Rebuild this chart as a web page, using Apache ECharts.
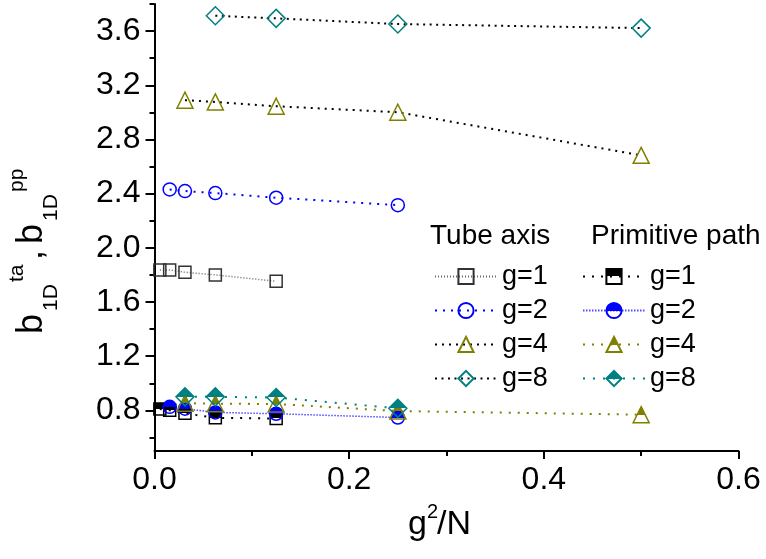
<!DOCTYPE html>
<html>
<head>
<meta charset="utf-8">
<script src="https://cdn.jsdelivr.net/npm/echarts@6/dist/echarts.min.js"></script>
<style>
  html, body { margin: 0; padding: 0; background: #fff; }
  #main { width: 766px; height: 559px; }
</style>
</head>
<body>
<div id="main"></div>
<script>
// x values (g^2/N) per group
const xG1 = [0.0055, 0.0156, 0.0313, 0.0625, 0.125];
const xG2 = [0.0156, 0.0313, 0.0625, 0.125, 0.25];
const xG4 = [0.0313, 0.0625, 0.125, 0.25, 0.5];
const xG8 = [0.0625, 0.125, 0.25, 0.5];
const xG8pp = [0.0313, 0.0625, 0.125, 0.25];

// tube axis b_1D^ta
const taG1 = [1.837, 1.837, 1.820, 1.800, 1.753];
const taG2 = [2.431, 2.419, 2.404, 2.370, 2.315];
const taG4 = [3.090, 3.077, 3.045, 3.001, 2.683];
const taG8 = [3.713, 3.694, 3.652, 3.622];

// primitive path b_1D^pp
const ppG1 = [0.810, 0.800, 0.778, 0.745, 0.740];
const ppG2 = [0.826, 0.812, 0.785, 0.775, 0.747];
const ppG4 = [0.853, 0.849, 0.847, 0.795, 0.768];
const ppG8 = [0.900, 0.900, 0.895, 0.815];

// axis ticks
const yMajor = [0.8, 1.2, 1.6, 2.0, 2.4, 2.8, 3.2, 3.6];
const yMinor = [0.6, 1.0, 1.4, 1.8, 2.2, 2.6, 3.0, 3.4, 3.8];

const FONT = 'Liberation Sans, Arial, sans-serif';
const zip = (xs, ys) => xs.map((x, i) => [x, ys[i]]);

function halfFill(c) {
  return new echarts.graphic.LinearGradient(0, 0, 0, 1, [
    { offset: 0, color: c },
    { offset: 0.5, color: c },
    { offset: 0.5, color: 'rgba(255,255,255,0)' },
    { offset: 1, color: 'rgba(255,255,255,0)' }
  ]);
}

function tube(name, xs, ys, symbol, size, mColor, lColor, dash, lw) {
  return {
    name: name, type: 'line', data: zip(xs, ys),
    symbol: symbol, symbolSize: size, showAllSymbol: true,
    itemStyle: { color: 'rgba(255,255,255,0)', borderColor: mColor, borderWidth: 1.5 },
    lineStyle: { color: lColor, width: lw, type: dash, cap: 'butt' }
  };
}

function prim(name, xs, ys, symbol, size, mColor, lColor, dash, lw) {
  return {
    name: name, type: 'line', data: zip(xs, ys),
    symbol: symbol, symbolSize: size, showAllSymbol: true,
    itemStyle: { color: halfFill(mColor), borderColor: mColor, borderWidth: 1.5 },
    lineStyle: { color: lColor, width: lw, type: dash, cap: 'butt' }
  };
}

const chart = echarts.init(document.getElementById('main'), null, { renderer: 'canvas' });

const legendBase = {
  orient: 'vertical',
  itemWidth: 62,
  itemHeight: 19,
  itemGap: 7,
  textStyle: { fontSize: 27, fontFamily: FONT, color: '#000' },
  formatter: n => n.slice(3),
  selectedMode: false
};

const txt = (t, size) => ({ text: t, fontSize: size, fontFamily: FONT, fill: '#000', verticalAlign: 'middle' });

chart.setOption({
  animation: false,
  backgroundColor: '#fff',
  grid: { left: 154.5, right: 27.5, top: 4, bottom: 108, outerBoundsMode: 'none' },
  xAxis: {
    type: 'value', min: 0, max: 0.6, interval: 0.2,
    axisLine: { lineStyle: { color: '#000', width: 2 } },
    axisTick: { length: 8, lineStyle: { color: '#000', width: 2 } },
    minorTick: { show: true, splitNumber: 2, length: 5, lineStyle: { color: '#000', width: 2 } },
    axisLabel: { fontSize: 32, fontFamily: FONT, color: '#000', margin: 13, formatter: v => v.toFixed(1) },
    splitLine: { show: false }
  },
  yAxis: [{
    type: 'value', min: 0.5, max: 3.8, position: 'left',
    axisLine: { lineStyle: { color: '#000', width: 2 } },
    axisTick: { customValues: yMajor, length: 9, lineStyle: { color: '#000', width: 2 } },
    axisLabel: { customValues: yMajor, fontSize: 32, fontFamily: FONT, color: '#000', margin: 14, formatter: v => v.toFixed(1) },
    splitLine: { show: false }
  }, {
    type: 'value', min: 0.5, max: 3.8, position: 'left',
    axisLine: { show: false },
    axisTick: { customValues: yMinor, length: 5, lineStyle: { color: '#000', width: 2 } },
    axisLabel: { show: false },
    splitLine: { show: false }
  }],
  legend: [
    Object.assign({}, legendBase, { left: 429, top: 258, data: ['ta g=1', 'ta g=2', 'ta g=4', 'ta g=8'] }),
    Object.assign({}, legendBase, { left: 577, top: 258, data: ['pp g=1', 'pp g=2', 'pp g=4', 'pp g=8'] })
  ],
  graphic: [
    { type: 'text', left: 430, top: 222, style: { text: 'Tube axis', fontSize: 28, fontFamily: FONT, fill: '#000' } },
    { type: 'text', left: 591, top: 222, style: { text: 'Primitive path', fontSize: 28, fontFamily: FONT, fill: '#000' } },
    {
      type: 'group', x: 44, y: 334, rotation: Math.PI / 2,
      children: [
        { type: 'text', x: 0, y: -12, style: txt('b', 36) },
        { type: 'text', x: 23, y: 7, style: txt('1D', 21) },
        { type: 'text', x: 52, y: -27, style: txt('ta', 21) },
        { type: 'text', x: 74, y: -12, style: txt(',', 36) },
        { type: 'text', x: 90, y: -12, style: txt('b', 36) },
        { type: 'text', x: 113, y: 7, style: txt('1D', 21) },
        { type: 'text', x: 142, y: -27, style: txt('pp', 21) }
      ]
    },
    { type: 'text', x: 408, y: 525, style: txt('g', 34) },
    { type: 'text', x: 427, y: 512, style: txt('2', 20) },
    { type: 'text', x: 437, y: 525, style: txt('/N', 34) }
  ],
  series: [
    tube('ta g=1', xG1, taG1, 'rect', 12, '#333', '#666', [1, 2], 1.5),
    tube('ta g=2', xG2, taG2, 'circle', 13, '#0000ff', '#0000ff', [2, 6], 2),
    tube('ta g=4', xG4, taG4, 'triangle', 16, '#808000', '#000', [2, 5], 2),
    tube('ta g=8', xG8, taG8, 'diamond', 18, '#008080', '#000', [2, 4.5], 2),
    prim('pp g=1', xG1, ppG1, 'rect', 12, '#000', '#000', [2, 7], 2),
    prim('pp g=2', xG2, ppG2, 'circle', 13, '#0000ff', '#4d4dff', [1.5, 1.5], 1.5),
    prim('pp g=4', xG4, ppG4, 'triangle', 16, '#808000', '#808000', [2, 7], 2),
    prim('pp g=8', xG8pp, ppG8, 'diamond', 18, '#008080', '#008080', [2, 8], 2)
  ]
});
</script>
</body>
</html>
